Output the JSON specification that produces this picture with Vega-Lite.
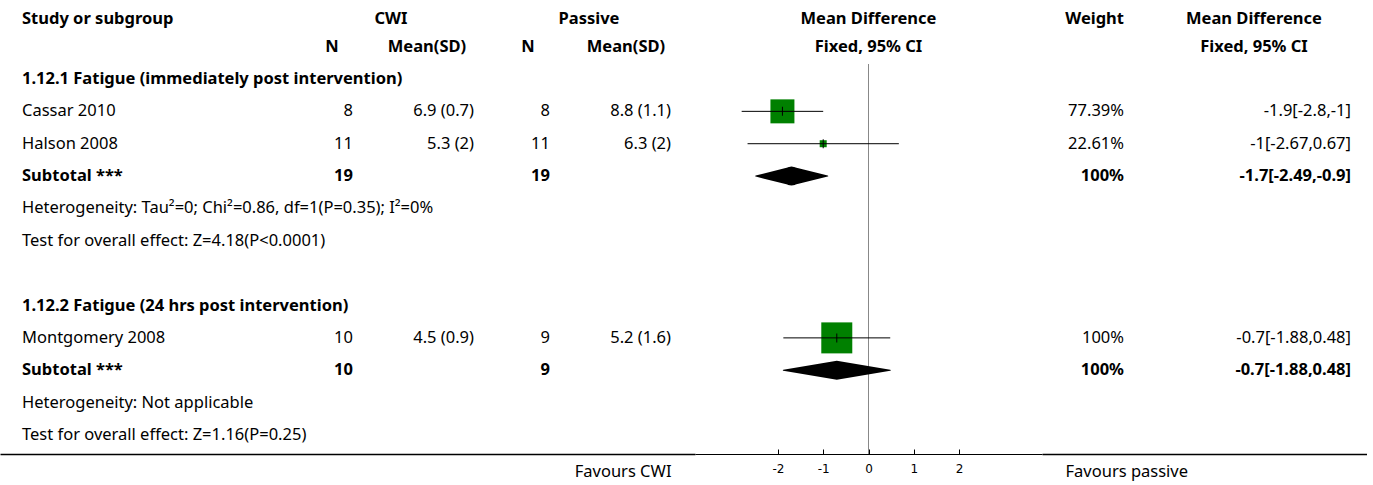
{
  "$schema": "https://vega.github.io/schema/vega-lite/v6.json",
  "padding": {"left": 0, "top": 0, "right": 0, "bottom": 31},
  "autosize": {"type": "pad"},
  "spacing": 0,
  "bounds": "flush",
  "config": {
    "view": {"stroke": null},
    "font": "Noto Sans",
    "text": {"font": "Noto Sans", "fontSize": 16.5, "color": "#000"},
    "axis": {"grid": false},
    "concat": {"spacing": 0}
  },
  "datasets": {
    "rows": [
      {"row": -1.85, "bold": true, "label": "Study or subgroup", "grp1": "CWI", "grp2": "Passive", "mdh": "Mean Difference", "wtxt": "Weight", "cih": "Mean Difference"},
      {"row": -1, "bold": true, "n1h": "N", "m1h": "Mean(SD)", "n2h": "N", "m2h": "Mean(SD)", "mdh": "Fixed, 95% CI", "cih": "Fixed, 95% CI"},
      {"row": 0, "bold": true, "label": "1.12.1 Fatigue (immediately post intervention)"},
      {"row": 1, "bold": false, "kind": "study", "label": "Cassar 2010", "n1": "8", "m1": "6.9 (0.7)", "n2": "8", "m2": "8.8 (1.1)", "weight": 77.39, "wtxt": "77.39%", "md": -1.9, "lo": -2.8, "hi": -1, "ci": "-1.9[-2.8,-1]"},
      {"row": 2, "bold": false, "kind": "study", "label": "Halson 2008", "n1": "11", "m1": "5.3 (2)", "n2": "11", "m2": "6.3 (2)", "weight": 22.61, "wtxt": "22.61%", "md": -1, "lo": -2.67, "hi": 0.67, "ci": "-1[-2.67,0.67]"},
      {"row": 3, "bold": true, "kind": "subtotal", "label": "Subtotal ***", "n1": "19", "n2": "19", "wtxt": "100%", "md": -1.7, "lo": -2.49, "hi": -0.9, "ci": "-1.7[-2.49,-0.9]"},
      {"row": 4, "bold": false, "label": "Heterogeneity: Tau²=0; Chi²=0.86, df=1(P=0.35); I²=0%"},
      {"row": 5, "bold": false, "label": "Test for overall effect: Z=4.18(P<0.0001)"},
      {"row": 7, "bold": true, "label": "1.12.2 Fatigue (24 hrs post intervention)"},
      {"row": 8, "bold": false, "kind": "study", "label": "Montgomery 2008", "n1": "10", "m1": "4.5 (0.9)", "n2": "9", "m2": "5.2 (1.6)", "weight": 100, "wtxt": "100%", "md": -0.7, "lo": -1.88, "hi": 0.48, "ci": "-0.7[-1.88,0.48]"},
      {"row": 9, "bold": true, "kind": "subtotal", "label": "Subtotal ***", "n1": "10", "n2": "9", "wtxt": "100%", "md": -0.7, "lo": -1.88, "hi": 0.48, "ci": "-0.7[-1.88,0.48]"},
      {"row": 10, "bold": false, "label": "Heterogeneity: Not applicable"},
      {"row": 11, "bold": false, "label": "Test for overall effect: Z=1.16(P=0.25)"}
    ]
  },
  "hconcat": [
    {
      "width": 695,
      "height": 454,
      "data": {"name": "rows"},
      "encoding": {
        "y": {"field": "row", "type": "quantitative", "scale": {"domain": [-2.441, 11.588], "reverse": true, "nice": false, "zero": false}, "axis": null}
      },
      "layer": [
        {
          "transform": [{"filter": "isValid(datum.label)"}],
          "mark": {"type": "text", "align": "left", "baseline": "middle", "fontWeight": {"expr": "datum.bold ? 'bold' : 'normal'"}},
          "encoding": {
            "x": {"datum": 22, "type": "quantitative", "scale": {"domain": [0, 695], "nice": false, "zero": false},
              "axis": {"orient": "bottom", "ticks": false, "labels": false, "grid": false, "domain": true, "domainColor": "#000", "domainWidth": 1.5,
                "title": "Favours CWI", "titleFont": "Noto Sans", "titleFontSize": 16.5, "titleFontWeight": "normal", "titleColor": "#000",
                "titleX": 671, "titleY": 17, "titleAlign": "right", "titleBaseline": "middle", "titleAnchor": "end"}},
            "text": {"field": "label"}
          }
        },
        {
          "transform": [{"filter": "isValid(datum.grp1)"}],
          "mark": {"type": "text", "align": "center", "baseline": "middle", "fontWeight": "bold"},
          "encoding": {"x": {"datum": 391, "type": "quantitative", "scale": {"domain": [0, 695], "nice": false, "zero": false}}, "text": {"field": "grp1"}}
        },
        {
          "transform": [{"filter": "isValid(datum.grp2)"}],
          "mark": {"type": "text", "align": "center", "baseline": "middle", "fontWeight": "bold"},
          "encoding": {"x": {"datum": 589, "type": "quantitative", "scale": {"domain": [0, 695], "nice": false, "zero": false}}, "text": {"field": "grp2"}}
        },
        {
          "transform": [{"filter": "isValid(datum.n1h)"}],
          "mark": {"type": "text", "align": "center", "baseline": "middle", "fontWeight": "bold"},
          "encoding": {"x": {"datum": 332, "type": "quantitative", "scale": {"domain": [0, 695], "nice": false, "zero": false}}, "text": {"field": "n1h"}}
        },
        {
          "transform": [{"filter": "isValid(datum.m1h)"}],
          "mark": {"type": "text", "align": "center", "baseline": "middle", "fontWeight": "bold"},
          "encoding": {"x": {"datum": 427, "type": "quantitative", "scale": {"domain": [0, 695], "nice": false, "zero": false}}, "text": {"field": "m1h"}}
        },
        {
          "transform": [{"filter": "isValid(datum.n2h)"}],
          "mark": {"type": "text", "align": "center", "baseline": "middle", "fontWeight": "bold"},
          "encoding": {"x": {"datum": 528, "type": "quantitative", "scale": {"domain": [0, 695], "nice": false, "zero": false}}, "text": {"field": "n2h"}}
        },
        {
          "transform": [{"filter": "isValid(datum.m2h)"}],
          "mark": {"type": "text", "align": "center", "baseline": "middle", "fontWeight": "bold"},
          "encoding": {"x": {"datum": 626, "type": "quantitative", "scale": {"domain": [0, 695], "nice": false, "zero": false}}, "text": {"field": "m2h"}}
        },
        {
          "transform": [{"filter": "isValid(datum.n1)"}],
          "mark": {"type": "text", "align": "right", "baseline": "middle", "fontWeight": {"expr": "datum.bold ? 'bold' : 'normal'"}},
          "encoding": {"x": {"datum": 353, "type": "quantitative", "scale": {"domain": [0, 695], "nice": false, "zero": false}}, "text": {"field": "n1"}}
        },
        {
          "transform": [{"filter": "isValid(datum.m1)"}],
          "mark": {"type": "text", "align": "right", "baseline": "middle", "fontWeight": {"expr": "datum.bold ? 'bold' : 'normal'"}},
          "encoding": {"x": {"datum": 474, "type": "quantitative", "scale": {"domain": [0, 695], "nice": false, "zero": false}}, "text": {"field": "m1"}}
        },
        {
          "transform": [{"filter": "isValid(datum.n2)"}],
          "mark": {"type": "text", "align": "right", "baseline": "middle", "fontWeight": {"expr": "datum.bold ? 'bold' : 'normal'"}},
          "encoding": {"x": {"datum": 550, "type": "quantitative", "scale": {"domain": [0, 695], "nice": false, "zero": false}}, "text": {"field": "n2"}}
        },
        {
          "transform": [{"filter": "isValid(datum.m2)"}],
          "mark": {"type": "text", "align": "right", "baseline": "middle", "fontWeight": {"expr": "datum.bold ? 'bold' : 'normal'"}},
          "encoding": {"x": {"datum": 671, "type": "quantitative", "scale": {"domain": [0, 695], "nice": false, "zero": false}}, "text": {"field": "m2"}}
        },
        {
          "data": {"values": [{}]},
          "mark": {"type": "rule", "color": "#000", "strokeWidth": 1.5},
          "encoding": {"y": {"datum": -0.525, "type": "quantitative", "scale": {"domain": [-2.441, 11.588], "reverse": true, "nice": false, "zero": false}, "axis": null}}
        }
      ]
    },
    {
      "width": 347,
      "height": 454,
      "data": {"name": "rows"},
      "encoding": {
        "y": {"field": "row", "type": "quantitative", "scale": {"domain": [-2.441, 11.588], "reverse": true, "nice": false, "zero": false}, "axis": null}
      },
      "layer": [
        {
          "transform": [{"filter": "isValid(datum.mdh)"}],
          "mark": {"type": "text", "align": "center", "baseline": "middle", "fontWeight": "bold"},
          "encoding": {
            "x": {"datum": 0, "type": "quantitative", "scale": {"domain": [-3.83, 3.83], "nice": false, "zero": false}, "title": null,
              "axis": {"orient": "bottom", "values": [-2, -1, 0, 1, 2], "labelExpr": "'' + datum.value", "tickSize": -5, "tickColor": "#000", "domainColor": "#000",
                "labelFont": "DejaVu Sans", "labelFontSize": 12, "labelColor": "#000", "labelPadding": 14, "title": null, "grid": false}},
            "text": {"field": "mdh"}
          }
        },
        {
          "data": {"values": [{}]},
          "mark": {"type": "rule", "color": "#000", "strokeWidth": 1.5},
          "encoding": {"y": {"datum": -0.525, "type": "quantitative", "scale": {"domain": [-2.441, 11.588], "reverse": true, "nice": false, "zero": false}, "axis": null}}
        },
        {
          "data": {"values": [{"effect": 0, "mid": 5.564}]},
          "mark": {"type": "tick", "orient": "vertical", "size": 390, "thickness": 1, "color": "#888", "opacity": 1},
          "encoding": {
            "x": {"field": "effect", "type": "quantitative", "scale": {"domain": [-3.83, 3.83], "nice": false, "zero": false}, "title": null},
            "y": {"field": "mid", "type": "quantitative", "scale": {"domain": [-2.441, 11.588], "reverse": true, "nice": false, "zero": false}, "axis": null}
          }
        },
        {
          "transform": [{"filter": "datum.kind === 'study'"}],
          "mark": {"type": "point", "shape": "square", "filled": true, "color": "#008000", "opacity": 1, "strokeWidth": 0},
          "encoding": {
            "x": {"field": "md", "type": "quantitative", "scale": {"domain": [-3.83, 3.83], "nice": false, "zero": false}, "title": null},
            "size": {"field": "weight", "type": "quantitative", "scale": {"type": "pow", "exponent": 2, "domain": [0, 100], "range": [0, 961]}, "legend": null}
          }
        },
        {
          "transform": [{"filter": "datum.kind === 'study'"}],
          "mark": {"type": "rule", "color": "#000", "strokeWidth": 1},
          "encoding": {
            "x": {"field": "lo", "type": "quantitative", "scale": {"domain": [-3.83, 3.83], "nice": false, "zero": false}, "title": null},
            "x2": {"field": "hi"}
          }
        },
        {
          "transform": [{"filter": "datum.kind === 'study'"}],
          "mark": {"type": "tick", "orient": "vertical", "size": 9, "thickness": 1, "color": "#000", "opacity": 1},
          "encoding": {
            "x": {"field": "md", "type": "quantitative", "scale": {"domain": [-3.83, 3.83], "nice": false, "zero": false}, "title": null}
          }
        },
        {
          "transform": [{"filter": "datum.kind === 'subtotal'"}, {"fold": ["lo", "md", "hi"], "as": ["key", "xv"]}],
          "mark": {"type": "trail", "color": "#000"},
          "encoding": {
            "x": {"field": "xv", "type": "quantitative", "scale": {"domain": [-3.83, 3.83], "nice": false, "zero": false}, "title": null},
            "detail": {"field": "row"},
            "order": {"field": "xv", "type": "quantitative"},
            "size": {"condition": {"test": "datum.key === 'md'", "value": 19}, "value": 0}
          }
        }
      ]
    },
    {
      "width": 325,
      "height": 454,
      "data": {"name": "rows"},
      "encoding": {
        "y": {"field": "row", "type": "quantitative", "scale": {"domain": [-2.441, 11.588], "reverse": true, "nice": false, "zero": false}, "axis": null}
      },
      "layer": [
        {
          "transform": [{"filter": "isValid(datum.wtxt)"}],
          "mark": {"type": "text", "align": "right", "baseline": "middle", "fontWeight": {"expr": "datum.bold ? 'bold' : 'normal'"}},
          "encoding": {
            "x": {"datum": 82, "type": "quantitative", "scale": {"domain": [0, 325], "nice": false, "zero": false},
              "axis": {"orient": "bottom", "ticks": false, "labels": false, "grid": false, "domain": true, "domainColor": "#000", "domainWidth": 1.5,
                "title": "Favours passive", "titleFont": "Noto Sans", "titleFontSize": 16.5, "titleFontWeight": "normal", "titleColor": "#000",
                "titleX": 23, "titleY": 17, "titleAlign": "left", "titleBaseline": "middle", "titleAnchor": "start"}},
            "text": {"field": "wtxt"}
          }
        },
        {
          "transform": [{"filter": "isValid(datum.cih)"}],
          "mark": {"type": "text", "align": "center", "baseline": "middle", "fontWeight": "bold"},
          "encoding": {"x": {"datum": 212, "type": "quantitative", "scale": {"domain": [0, 325], "nice": false, "zero": false}}, "text": {"field": "cih"}}
        },
        {
          "transform": [{"filter": "isValid(datum.ci)"}],
          "mark": {"type": "text", "align": "right", "baseline": "middle", "fontWeight": {"expr": "datum.bold ? 'bold' : 'normal'"}},
          "encoding": {"x": {"datum": 309, "type": "quantitative", "scale": {"domain": [0, 325], "nice": false, "zero": false}}, "text": {"field": "ci"}}
        },
        {
          "data": {"values": [{}]},
          "mark": {"type": "rule", "color": "#000", "strokeWidth": 1.5},
          "encoding": {"y": {"datum": -0.525, "type": "quantitative", "scale": {"domain": [-2.441, 11.588], "reverse": true, "nice": false, "zero": false}, "axis": null}}
        }
      ]
    }
  ]
}
